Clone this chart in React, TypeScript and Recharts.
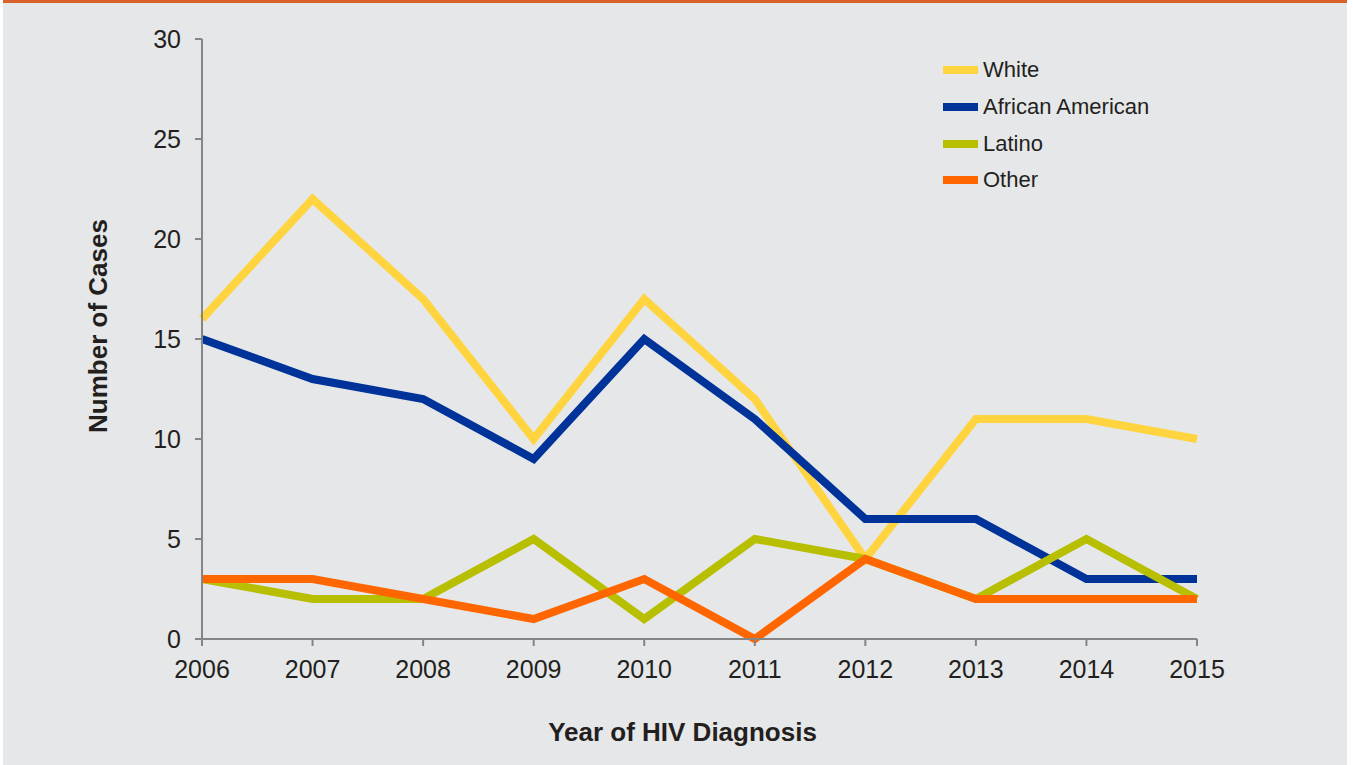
import React from "react";
import { LineChart, Line, XAxis, YAxis, Legend, Label } from "recharts";

const years = [2006, 2007, 2008, 2009, 2010, 2011, 2012, 2013, 2014, 2015];
const white = [16, 22, 17, 10, 17, 12, 4, 11, 11, 10];
const africanAmerican = [15, 13, 12, 9, 15, 11, 6, 6, 3, 3];
const latino = [3, 2, 2, 5, 1, 5, 4, 2, 5, 2];
const other = [3, 3, 2, 1, 3, 0, 4, 2, 2, 2];
const yTicks = [0, 5, 10, 15, 20, 25, 30];

const series = [
  { key: "white", name: "White", color: "#FFD43F" },
  { key: "africanAmerican", name: "African American", color: "#003399" },
  { key: "latino", name: "Latino", color: "#B8BF00" },
  { key: "other", name: "Other", color: "#FF6600" },
];

const data = years.map((year, i) => ({
  year,
  white: white[i],
  africanAmerican: africanAmerican[i],
  latino: latino[i],
  other: other[i],
}));

const FONT = "'Liberation Sans', Arial, sans-serif";
const TEXT = "#231f20";
const AXIS = "#858585";

const renderLegend = () => (
  <div style={{ fontFamily: FONT, fontSize: 22, color: TEXT }}>
    {series.map((s) => (
      <div key={s.key} style={{ display: "flex", alignItems: "center", height: 36.7 }}>
        <span style={{ width: 35, height: 8, background: s.color, marginRight: 5 }} />
        <span>{s.name}</span>
      </div>
    ))}
  </div>
);

const YTitle = ({ viewBox }: any) => {
  const cx = 98;
  const cy = viewBox.y + viewBox.height / 2 - 13;
  return (
    <text
      x={cx}
      y={cy}
      transform={`rotate(-90, ${cx}, ${cy})`}
      textAnchor="middle"
      dominantBaseline="central"
      fontFamily={FONT}
      fontSize={26}
      fontWeight="bold"
      fill={TEXT}
    >
      Number of Cases
    </text>
  );
};

const XTitle = ({ viewBox }: any) => (
  <text
    x={viewBox.x + viewBox.width / 2 - 17}
    y={741}
    textAnchor="middle"
    fontFamily={FONT}
    fontSize={26}
    fontWeight="bold"
    fill={TEXT}
  >
    Year of HIV Diagnosis
  </text>
);

export default function App() {
  return (
    <div style={{ position: "absolute", left: 0, top: 0, width: 1353, height: 765, background: "#fff" }}>
      <div style={{ position: "absolute", left: 3, top: 0, width: 1344, height: 765, background: "#E6E7E8" }} />
      <div style={{ position: "absolute", left: 3, top: 0, width: 1344, height: 3, background: "#D9622B" }} />
      <div style={{ position: "absolute", left: 0, top: 0 }}>
        <LineChart width={1353} height={765} data={data} margin={{ top: 39, right: 156, bottom: 16, left: 72 }}>
          <XAxis
            dataKey="year"
            type="number"
            domain={[2006, 2015]}
            ticks={years}
            height={110}
            tickSize={7}
            tickMargin={14}
            stroke={AXIS}
            strokeWidth={2}
            tick={{ fill: TEXT, fontSize: 25, fontFamily: FONT }}
          >
            <Label content={XTitle} />
          </XAxis>
          <YAxis
            domain={[0, 30]}
            ticks={yTicks}
            width={130}
            tickSize={7}
            tickMargin={14}
            stroke={AXIS}
            strokeWidth={2}
            tick={{ fill: TEXT, fontSize: 25, fontFamily: FONT }}
          >
            <Label content={YTitle} />
          </YAxis>
          <Legend
            layout="vertical"
            verticalAlign="middle"
            align="center"
            content={renderLegend}
            wrapperStyle={{ left: 943, top: 52, width: 260 }}
          />
          {series.map((s) => (
            <Line
              key={s.key}
              type="linear"
              dataKey={s.key}
              name={s.name}
              stroke={s.color}
              strokeWidth={8}
              strokeLinejoin="miter"
              strokeLinecap="butt"
              dot={false}
              activeDot={false}
              isAnimationActive={false}
            />
          ))}
        </LineChart>
      </div>
    </div>
  );
}
